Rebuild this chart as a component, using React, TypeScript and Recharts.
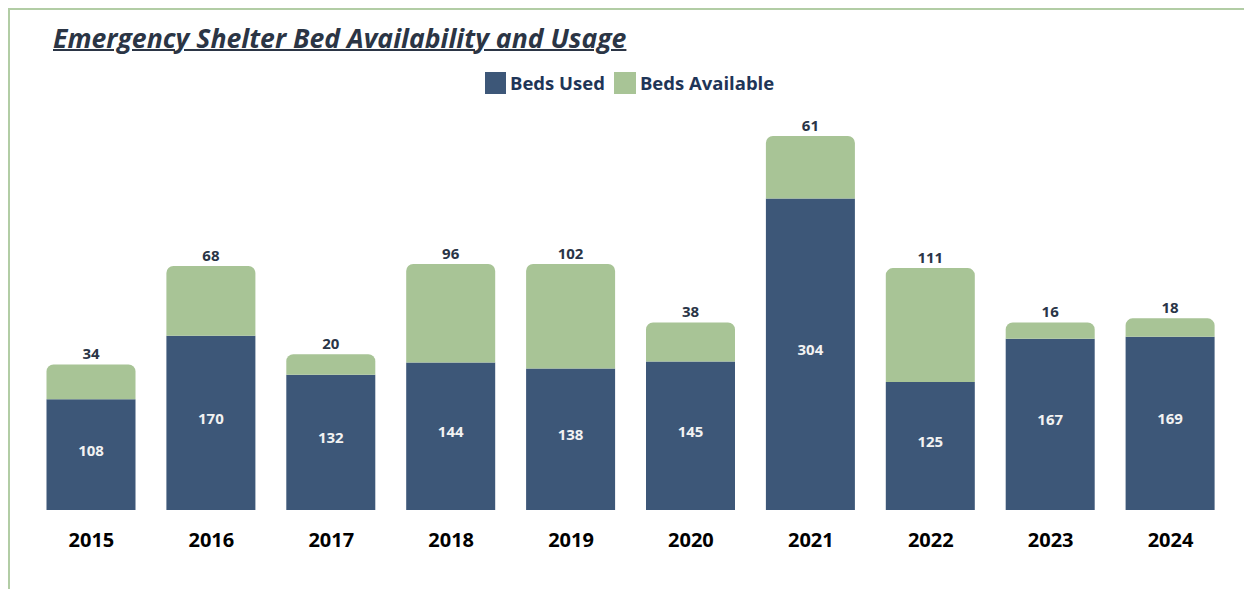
import { BarChart, Bar, XAxis, YAxis, LabelList } from "recharts";

const years = ["2015", "2016", "2017", "2018", "2019", "2020", "2021", "2022", "2023", "2024"];
const bedsUsed = [108, 170, 132, 144, 138, 145, 304, 125, 167, 169];
const bedsAvailable = [34, 68, 20, 96, 102, 38, 61, 111, 16, 18];

const NAVY = "#3d5778";
const GREEN = "#a8c496";
const FONT = "'Open Sans', 'Noto Sans', sans-serif";

const UsedLabel = (props: any) => {
  const { x, y, width, height, value } = props;
  return (
    <text
      x={x + width / 2}
      y={y + height / 2 - 5}
      textAnchor="middle"
      dominantBaseline="central"
      style={{ fontSize: 15, fontWeight: 700, fill: "#f2f2f2", fontFamily: FONT }}
    >
      {value}
    </text>
  );
};

export default function App() {
  const data = years.map((year, i) => ({
    year,
    used: bedsUsed[i],
    available: bedsAvailable[i],
  }));

  return (
    <div
      style={{
        position: "relative",
        width: 1244,
        height: 581,
        borderTop: "2px solid #b2cda5",
        borderLeft: "2px solid #b2cda5",
        boxSizing: "border-box",
        fontFamily: FONT,
      }}
    >
      <div
        style={{
          position: "absolute",
          left: 43,
          top: 10,
          fontSize: 26.6,
          fontWeight: 700,
          fontStyle: "italic",
          textDecoration: "underline",
          textDecorationThickness: 2,
          color: "#2b3545",
          whiteSpace: "nowrap",
        }}
      >
        Emergency Shelter Bed Availability and Usage
      </div>
      <div
        style={{
          position: "absolute",
          left: 475,
          top: 60,
          display: "flex",
          alignItems: "center",
          fontSize: 18.5,
          fontWeight: 700,
          color: "#1f3557",
          whiteSpace: "nowrap",
        }}
      >
        <span style={{ width: 21, height: 22, background: NAVY, display: "inline-block", marginRight: 4 }} />
        <span style={{ marginRight: 9 }}>Beds Used</span>
        <span style={{ width: 22, height: 22, background: GREEN, display: "inline-block", marginRight: 4 }} />
        <span>Beds Available</span>
      </div>
      <div style={{ position: "absolute", left: 0, top: 0 }}>
        <BarChart
          width={1234}
          height={571}
          data={data}
          margin={{ top: 90, right: 13.5, bottom: 31, left: 21.5 }}
          barSize={89}
        >
          <XAxis
            dataKey="year"
            axisLine={false}
            tickLine={false}
            height={40}
            tickMargin={17}
            tick={{ fontSize: 20, fontWeight: 700, fill: "#000", fontFamily: FONT }}
            interval={0}
          />
          <YAxis hide domain={[0, 400]} />
          <Bar dataKey="used" stackId="a" fill={NAVY} isAnimationActive={false}>
            <LabelList dataKey="used" content={UsedLabel} />
          </Bar>
          <Bar dataKey="available" stackId="a" fill={GREEN} radius={[7, 7, 0, 0]} isAnimationActive={false}>
            <LabelList
              dataKey="available"
              position="top"
              offset={5}
              style={{ fontSize: 15, fontWeight: 700, fill: "#2a3547", fontFamily: FONT }}
            />
          </Bar>
        </BarChart>
      </div>
    </div>
  );
}
